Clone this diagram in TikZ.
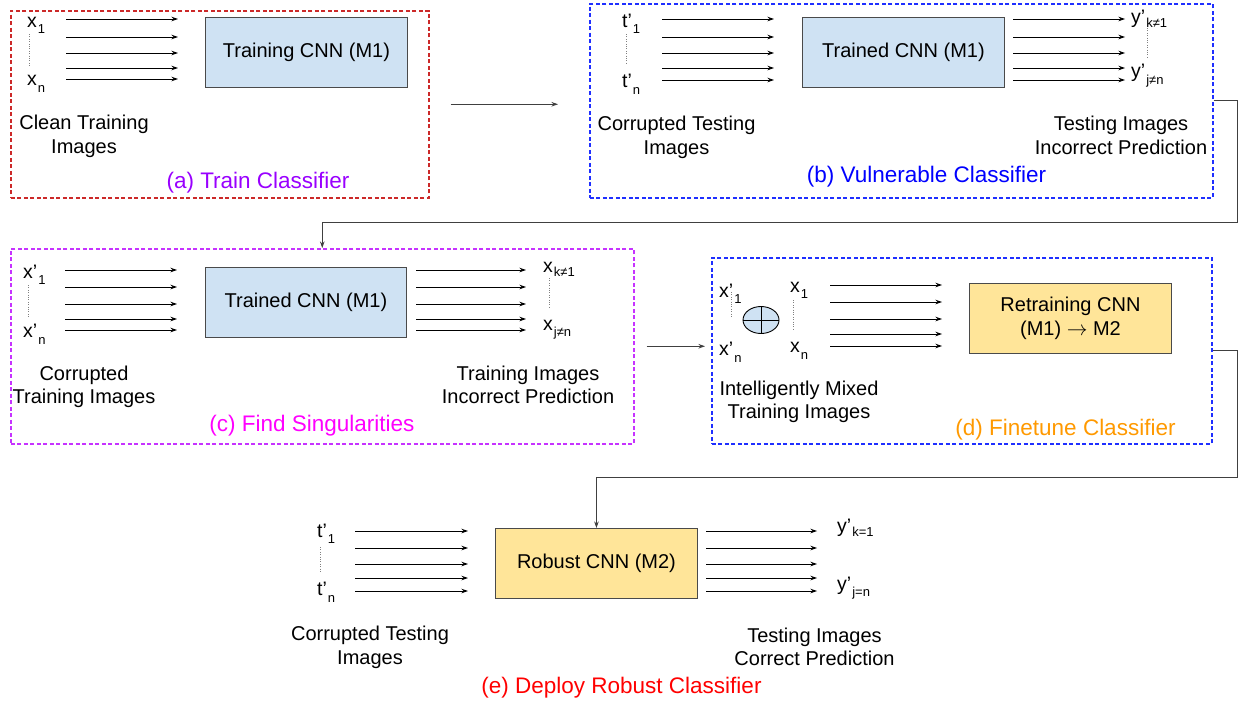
\documentclass[tikz,border=0pt]{standalone}
\usepackage{fontspec}
\setmainfont{Liberation Sans}
\usetikzlibrary{arrows.meta,shapes.geometric}
\definecolor{cnnblue}{HTML}{CFE2F3}
\definecolor{cnnyel}{HTML}{FFE599}
\definecolor{boxedge}{HTML}{4A4A4A}
\definecolor{frred}{HTML}{CC2929}
\definecolor{frblue}{HTML}{1F2FFF}
\definecolor{frviol}{HTML}{C633FF}
\definecolor{lbpurple}{HTML}{9900FF}
\definecolor{lbblue}{HTML}{0000FF}
\definecolor{lbmag}{HTML}{FF00FF}
\definecolor{lborange}{HTML}{FF9900}
\definecolor{lbred}{HTML}{FF0000}
\definecolor{conn}{HTML}{404040}
\newcommand{\sbs}[2][6pt]{\kern1pt\raisebox{-#1}{\fontsize{13}{13}\selectfont #2}}
\begin{document}
\begin{tikzpicture}[x=1pt,y=-1pt,
  txt/.style={font=\fontsize{20}{23.5}\selectfont, align=center, inner sep=0pt},
  captxt/.style={font=\fontsize{22.5}{26}\selectfont, inner sep=0pt},
  sym/.style={font=\fontsize{19.5}{23}\selectfont, inner sep=0pt, anchor=base west},
  cnn/.style={draw=boxedge, line width=0.9pt, fill=cnnblue, inner sep=0pt, anchor=north west},
  cnny/.style={cnn, fill=cnnyel},
  arr/.style={-{Stealth[length=6.5pt,width=4.5pt]}, line width=0.9pt},
  dots/.style={draw=gray, line width=0.6pt, dash pattern=on 0.8pt off 1.6pt},
  frame/.style={line width=1.5pt, dash pattern=on 4pt off 2.5pt, inner sep=0pt, anchor=north west},
  link/.style={draw=conn, line width=1.1pt},
]
\useasboundingbox (0,0) rectangle (1238,707);

% ---------- frames ----------
\node[frame, draw=frred, minimum width=418pt, minimum height=187pt] (fa) at (10,10) {};
\node[frame, draw=frblue, minimum width=623pt, minimum height=194pt] (fb) at (589,3) {};
\node[frame, draw=frviol, minimum width=623pt, minimum height=195pt] (fc) at (10,248) {};
\node[frame, draw=frblue, minimum width=500pt, minimum height=186pt] (fd) at (711,257) {};

% ---------- (a) ----------
\node[cnn, minimum width=202pt, minimum height=70pt] (acnn) at (205,17) {};
\node[txt] (acnnt) at (acnn.center) {Training CNN (M1)};
\foreach \y in {19,37,53,68,79} \draw[arr] (66,\y) -- (178,\y);
\node[sym] (ax1) at (27,27) {x\sbs{1}};
\node[sym] (axn) at (27,85) {x\sbs[7pt]{n}};
\draw[dots] (29.5,34) -- (29.5,66);
\node[txt] (alab) at (84,136.5) {Clean Training\\Images};
\node[captxt, text=lbpurple] (acap) at (258,183) {(a) Train Classifier};

% ---------- (b) ----------
\node[cnn, minimum width=202pt, minimum height=70pt] (bcnn) at (802,17) {};
\node[txt] (bcnnt) at (bcnn.center) {Trained CNN (M1)};
\foreach \y in {19,37,53,68,80} {
  \draw[arr] (662,\y) -- (774,\y);
  \draw[arr] (1013,\y) -- (1125,\y);
}
\node[sym] (bt1) at (622,27) {t’\sbs{1}};
\node[sym] (btn) at (622,87) {t’\sbs[7pt]{n}};
\draw[dots] (626,34) -- (626,64);
\node[sym] (byk) at (1131,23) {y’\sbs[4pt]{k≠1}};
\node[sym] (byj) at (1131,77) {y’\sbs[7pt]{j≠n}};
\draw[dots] (1147,28) -- (1147,58);
\node[txt] (blab) at (676.5,137.5) {Corrupted Testing\\Images};
\node[txt] (blab2) at (1121,135.5) {Testing Images\\Incorrect Prediction};
\node[captxt, text=lbblue] (bcap) at (926.5,177) {(b) Vulnerable Classifier};

% ---------- (c) ----------
\node[cnn, minimum width=201pt, minimum height=70pt] (ccnn) at (205,267) {};
\node[txt] (ccnnt) at (ccnn.center) {Trained CNN (M1)};
\foreach \y in {270,287,304,319,330} {
  \draw[arr] (65,\y) -- (177,\y);
  \draw[arr] (416,\y) -- (526,\y);
}
\node[sym] (cx1) at (23,278) {x’\sbs{1}};
\node[sym] (cxn) at (23,337) {x’\sbs[7pt]{n}};
\draw[dots] (28.5,285) -- (28.5,317);
\node[sym] (cxk) at (543,272) {x\sbs[4pt]{k≠1}};
\node[sym] (cxj) at (543,330) {x\sbs[6pt]{j≠n}};
\draw[dots] (549,278) -- (549,307);
\node[txt] (clab) at (84,387) {Corrupted\\Training Images};
\node[txt] (clab2) at (528,385) {Training Images\\Incorrect Prediction};
\node[captxt, text=lbmag] (ccap) at (312,426) {(c) Find Singularities};

% ---------- (d) ----------
\node[cnny, minimum width=202pt, minimum height=70pt] (dcnn) at (969,283) {};
\node[txt] (dcnnt) at (dcnn.center) {Retraining CNN\\(M1) $\rightarrow$ M2};
\foreach \y in {285,302,319,334,346} \draw[arr] (830,\y) -- (942,\y);
\node[sym] (dx1) at (719,297) {x’\sbs{1}};
\node[sym] (dxn) at (719,355) {x’\sbs[7pt]{n}};
\draw[dots] (731,292) -- (731,318);
\node[draw=black, line width=0.9pt, fill=cnnblue, ellipse, minimum width=36pt, minimum height=27pt, inner sep=0pt] (dplus) at (761,320) {};
\draw[line width=0.9pt] (dplus.north) -- (dplus.south) (dplus.west) -- (dplus.east);
\node[sym] (dy1) at (790,292) {x\sbs{1}};
\node[sym] (dyn) at (790,352) {x\sbs[7pt]{n}};
\draw[dots] (793,300) -- (793,330);
\node[txt] (dlab) at (799,402) {Intelligently Mixed\\Training Images};
\node[captxt, text=lborange] (dcap) at (1065.5,430) {(d) Finetune Classifier};

% ---------- (e) ----------
\node[cnny, minimum width=202pt, minimum height=70pt] (ecnn) at (495,528) {};
\node[txt] (ecnnt) at (ecnn.center) {Robust CNN (M2)};
\foreach \y in {531,548,564,578,591} {
  \draw[arr] (355,\y) -- (468,\y);
  \draw[arr] (706,\y) -- (817,\y);
}
\node[sym] (et1) at (317,537) {t’\sbs{1}};
\node[sym] (etn) at (317,595) {t’\sbs[7pt]{n}};
\draw[dots] (320,547) -- (320,573);
\node[sym] (eyk) at (837,532) {y’\sbs[4pt]{k=1}};
\node[sym] (eyj) at (837,590) {y’\sbs[6pt]{j=n}};
\node[txt] (elab) at (370,647.5) {Corrupted Testing\\Images};
\node[txt] (elab2) at (814.5,647) {Testing Images\\Correct Prediction};
\node[captxt, text=lbred] (ecap) at (621.5,688) {(e) Deploy Robust Classifier};

% ---------- connectors between stages ----------
\draw[link, arr, shorten <=21pt, shorten >=31pt] (fa.east) -- (fa.east -| fb.west);
\coordinate (bc1) at (1237,222);
\draw[link, arr] (fb.east) -| (bc1) -| (fc.north);
\draw[link, arr, shorten <=12pt, shorten >=6pt] (fc.east) -- (fc.east -| fd.west);
\coordinate (de1) at (1237,477);
\draw[link, arr] (fd.east) -| (de1) -| (ecnn.north);
\end{tikzpicture}
\end{document}
